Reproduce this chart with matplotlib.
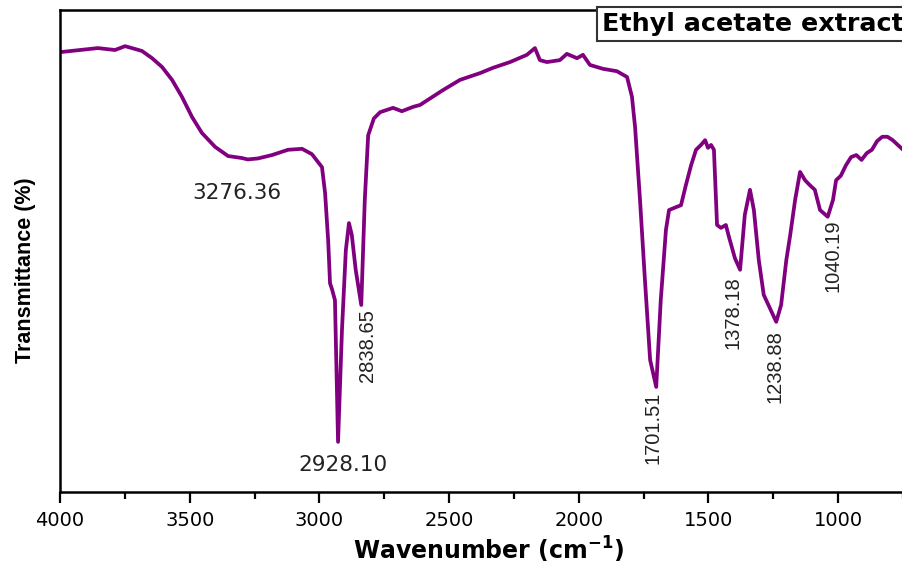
import matplotlib
matplotlib.use("Agg")
import matplotlib.pyplot as plt
from matplotlib.ticker import MultipleLocator

# FTIR spectrum of the ethyl acetate extract
wavenumber = [
    4000, 3992, 3854, 3788, 3749, 3684, 3645, 3607, 3568, 3530, 3491, 3453,
    3402, 3352, 3300, 3276.36, 3237, 3183, 3121, 3067, 3029, 2990, 2978, 2966,
    2959, 2951, 2940, 2928.10, 2913, 2898, 2886, 2875, 2860, 2838.65, 2825,
    2812, 2790, 2766, 2716, 2682, 2639, 2612, 2523, 2458, 2381, 2331, 2265,
    2200, 2169, 2150, 2123, 2073, 2046, 2007, 1984, 1957, 1907, 1853, 1814,
    1795, 1783, 1764, 1745, 1725, 1701.51, 1684, 1664, 1652, 1625, 1606,
    1587, 1567, 1548, 1529, 1513, 1502, 1490, 1479, 1467, 1452, 1433, 1421,
    1398, 1378.18, 1360, 1340, 1325, 1306, 1287, 1238.88, 1220, 1200, 1185,
    1166, 1147, 1128, 1110, 1090, 1070, 1040.19, 1020, 1008, 990, 970, 950,
    930, 910, 890, 870, 850, 830, 810, 790, 770, 750,
]
transmittance = [
    91.3, 91.3, 92.1, 91.7, 92.5, 91.5, 90.0, 88.2, 85.5, 82.0, 77.8, 74.5,
    71.6, 69.7, 69.3, 69.0, 69.2, 69.9, 71.0, 71.2, 70.1, 67.4, 62.0, 52.0,
    43.3, 42.0, 39.8, 10.4, 33.6, 50.2, 55.8, 53.3, 46.1, 38.8, 60.6,
    74.0, 77.5, 78.8, 79.7, 79.0, 79.9, 80.3, 83.4, 85.5, 86.9, 88.0, 89.2,
    90.7, 92.1, 89.6, 89.2, 89.6, 90.9, 90.0, 90.7, 88.6, 87.8, 87.3, 86.1,
    82.0, 75.7, 60.6, 44.0, 27.4, 21.8, 39.8, 54.4, 58.5, 59.1, 59.5,
    63.7, 67.8, 71.0, 72.0, 73.0, 71.4, 72.0, 71.0, 55.4, 54.8, 55.4, 52.9,
    48.5, 46.1, 57.5, 62.7, 58.5, 48.1, 40.9, 35.3, 38.8, 48.1, 53.3,
    60.6, 66.4, 64.7, 63.7, 62.7, 58.5, 57.1, 60.6, 64.7, 65.6, 67.8, 69.5,
    69.9, 68.9, 70.3, 71.0, 72.8, 73.7, 73.7, 73.0, 72.0, 71.0,
]

peak_labels = ["3276.36", "2928.10", "2838.65", "1701.51", "1378.18", "1238.88", "1040.19"]

# label placement (x in cm^-1, y in %T, rotation)
label_layout = {
    "3276.36": (3318, 62.0, 0),
    "2928.10": (2909, 5.6, 0),
    "2838.65": (2813, 30.3, 90),
    "1701.51": (1714, 13.3, 90),
    "1378.18": (1406, 37.3, 90),
    "1238.88": (1244, 26.1, 90),
    "1040.19": (1020, 49.0, 90),
}

fig = plt.figure(figsize=(9.03, 5.67), dpi=100)
ax = fig.add_axes([60 / 903, 75 / 567, 856 / 903, 482 / 567])

ax.plot(wavenumber, transmittance, color="#800080", lw=2.7,
        solid_joinstyle="round", solid_capstyle="round")

ax.set_xlim(4000, 700)
ax.set_ylim(0, 100)
ax.xaxis.set_major_locator(MultipleLocator(500))
ax.xaxis.set_minor_locator(MultipleLocator(250))
ax.tick_params(axis="x", which="major", direction="out", length=8, width=1.6,
               labelsize=14, pad=6)
ax.tick_params(axis="x", which="minor", direction="out", length=5, width=1.6)
ax.set_yticks([])
for s in ax.spines.values():
    s.set_linewidth(1.8)
ax.spines["right"].set_visible(False)

ax.set_xlabel("Wavenumber (cm$^{\\mathbf{-1}}$)", fontsize=17, fontweight="bold", labelpad=3)
ax.set_ylabel("Transmittance (%)", fontsize=15.5, fontweight="bold",
              family="Liberation Sans")
ax.yaxis.set_label_coords(-0.028, 0.46)

for lab in peak_labels:
    x, y, rot = label_layout[lab]
    if rot == 0:
        ax.text(x, y, lab, fontsize=15.5, ha="center", va="center", color="#222222")
    else:
        ax.text(x, y, lab, fontsize=14.5, ha="center", va="center", rotation=90,
                family="Liberation Sans", color="#222222")

fig.text(602 / 903, 1 - 24 / 567, "Ethyl acetate extract", fontsize=18.3,
         fontweight="bold", ha="left", va="center",
         bbox=dict(boxstyle="square,pad=0.2", fc="white", ec="#333333", lw=1.5))

fig.savefig("out.png", dpi=100)
